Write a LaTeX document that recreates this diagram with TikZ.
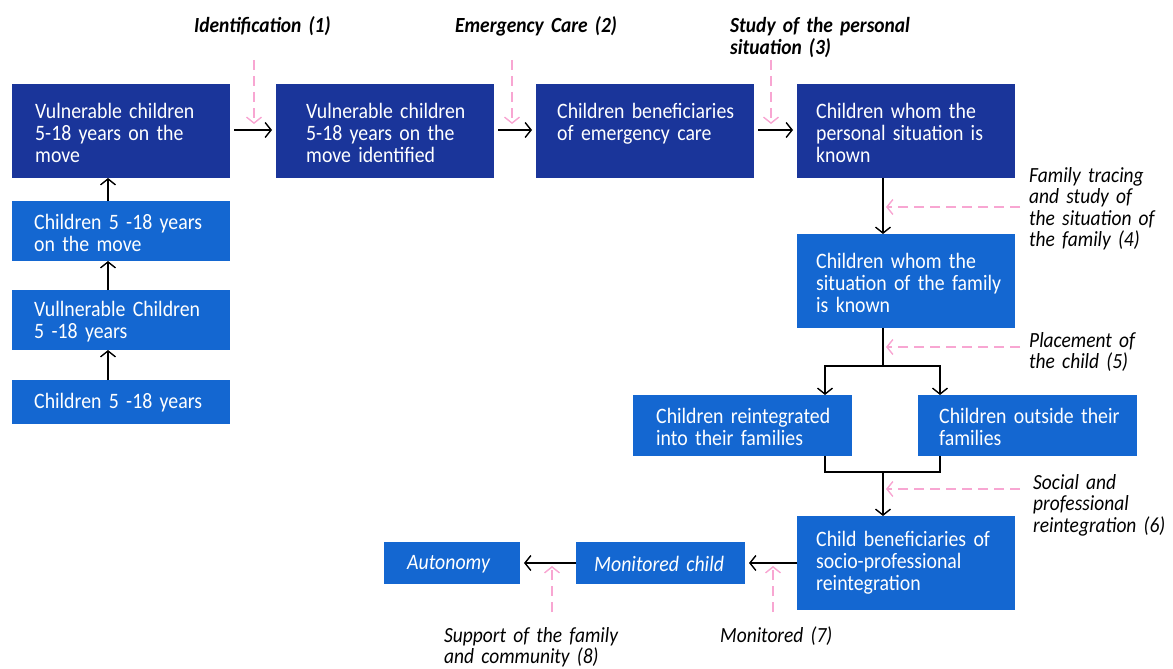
\documentclass[tikz,border=0pt]{standalone}
\usepackage{fontspec}
\setmainfont[FakeStretch=0.9]{Carlito}
\usetikzlibrary{arrows.meta,calc}
\definecolor{navy}{HTML}{1A359A}
\definecolor{azure}{HTML}{1467D1}
\definecolor{rose}{HTML}{F8A6D2}
\newcommand\bxfont{\fontsize{22}{22}\selectfont}
\newcommand\lbfont{\fontsize{21.6}{21.5}\selectfont\itshape}

\begin{document}
\begin{tikzpicture}[x=1pt,y=-1pt,
  stage/.style={draw=none, anchor=north west, inner sep=0, outer sep=0},
  dk/.style={stage, fill=navy},
  lt/.style={stage, fill=azure},
  txt/.style={anchor=base west, inner sep=0, text=white, align=left, font=\bxfont, text width=205pt},
  lab/.style={anchor=base west, inner sep=0, align=left, font=\lbfont, text width=205pt},
  flow/.style={line width=1.4pt, -{Straight Barb[length=6pt,width=15pt]}},
  link/.style={line width=1.4pt},
  hint/.style={draw=rose, line width=1.4pt, dash pattern=on 10pt off 6pt, -{Straight Barb[length=6pt,width=15pt]}},
]
\useasboundingbox (0,0) rectangle (1173,669);

% ---- main row
\node[dk, minimum width=218pt, minimum height=94pt] (a) at (12,84) {};
\node[dk, minimum width=218pt, minimum height=94pt] (b) at (276,84) {};
\node[dk, minimum width=218pt, minimum height=94pt] (c) at (536,84) {};
\node[dk, minimum width=218pt, minimum height=94pt] (d) at (797,84) {};
\node[txt] (ta) at (35,118) {Vulnerable children\\5-18 years on the\\move};
\node[txt] (tb) at (306,118) {Vulnerable children\\5-18 years on the\\move identified};
\node[txt] (tc) at (557,118) {Children beneficiaries\\of emergency care};
\node[txt] (td) at (816,118) {Children whom the\\personal situation is\\known};

% ---- left column
\node[lt, minimum width=218pt, minimum height=60pt] (k) at (12,201) {};
\node[lt, minimum width=218pt, minimum height=60pt] (l) at (12,290) {};
\node[lt, minimum width=218pt, minimum height=44pt] (m) at (12,380) {};
\node[txt] (tk) at (34,229) {Children 5 -18 years\\on the move};
\node[txt] (tl) at (34,316) {Vullnerable Children\\5 -18 years};
\node[txt] (tm) at (34,408) {Children 5 -18 years};

% ---- right column
\node[lt, minimum width=218pt, minimum height=94pt] (e) at (797,234) {};
\node[txt] (te) at (816,268) {Children whom the\\situation of the family\\is known};
\node[lt, minimum width=219pt, minimum height=61pt] (f) at (633,395) {};
\node[lt, minimum width=219pt, minimum height=61pt] (g) at (918,395) {};
\node[txt] (tf) at (656,423) {Children reintegrated\\into their families};
\node[txt] (tg) at (939,423) {Children outside their\\families};
\node[lt, minimum width=218pt, minimum height=94pt] (h) at (797,516) {};
\node[txt] (th) at (816,546) {Child beneficiaries of\\socio-professional\\reintegration};

% ---- bottom row
\node[lt, minimum width=169pt, minimum height=42pt] (i) at (576,542) {};
\node[lt, minimum width=136pt, minimum height=42pt] (j) at (384,542) {};
\node[txt] (ti) at (594,571) {\itshape Monitored child};
\node[txt] (tj) at (407,569) {\itshape Autonomy};

% ---- step labels
\node[lab, font=\lbfont\bfseries] (s1) at (194,33) {Identification (1)};
\node[lab, font=\lbfont\bfseries] (s2) at (455,33) {Emergency Care (2)};
\node[lab, font=\lbfont\bfseries] (s3) at (730,33) {Study of the personal\\situation (3)};
\node[lab] (s4) at (1029,182) {Family tracing\\and study of\\the situation of\\the family (4)};
\node[lab] (s5) at (1029,347) {Placement of\\the child (5)};
\node[lab] (s6) at (1033,489) {Social and\\professional\\reintegration (6)};
\node[lab] (s7) at (720,642) {Monitored (7)};
\node[lab] (s8) at (444,642) {Support of the family\\and community (8)};

% ---- flow along the main row
\draw[flow, shorten <=4pt, shorten >=4pt] (a.east |- 0,130) -- (b.west |- 0,130);
\draw[flow, shorten <=4pt, shorten >=4pt] (b.east |- 0,130) -- (c.west |- 0,130);
\draw[flow, shorten <=4pt, shorten >=4pt] (c.east |- 0,130) -- (d.west |- 0,130);

% ---- left column, upwards
\coordinate (m0) at (108,0);
\draw[flow] (m.north -| m0) -- (m0 |- l.south);
\draw[flow] (l.north -| m0) -- (m0 |- k.south);
\draw[flow] (k.north -| m0) -- (m0 |- a.south);

% ---- right column, downwards
\coordinate (rx) at (883,0);
\draw[flow] (d.south -| rx) -- (e.north -| rx);

\coordinate (fk) at (883,366);
\coordinate (fl) at (825,366);
\coordinate (gl) at (940,366);
\draw[link] (e.south -| rx) -- (fk);
\draw[flow] (fk) -- (fl) -- (fl |- f.north);
\draw[flow] (fk) -- (gl) -- (gl |- g.north);

\coordinate (mj) at (883,472);
\draw[link] (fl |- f.south) -- (fl |- mj) -- (gl |- mj) -- (gl |- g.south);
\draw[flow] (mj) -- (h.north -| mj);

% ---- bottom row, leftwards
\draw[flow, shorten >=4pt] (h.west |- 0,563) -- (i.east |- 0,563);
\draw[flow, shorten >=4pt] (i.west |- 0,563) -- (j.east |- 0,563);

% ---- dashed step hints
\coordinate (h1a) at (254,60);  \coordinate (h1b) at (254,124);
\coordinate (h2a) at (512,60);  \coordinate (h2b) at (512,124);
\coordinate (h3a) at (771,60);  \coordinate (h3b) at (771,124);
\coordinate (h4a) at (1020,207); \coordinate (h4b) at (886,207);
\coordinate (h5a) at (1020,347); \coordinate (h5b) at (886,347);
\coordinate (h6a) at (1020,489); \coordinate (h6b) at (886,489);
\coordinate (h7a) at (773,612); \coordinate (h7b) at (773,566);
\coordinate (h8a) at (552,612); \coordinate (h8b) at (552,566);
\foreach \n in {1,...,8} \draw[hint] (h\n a) -- (h\n b);

\end{tikzpicture}
\end{document}
